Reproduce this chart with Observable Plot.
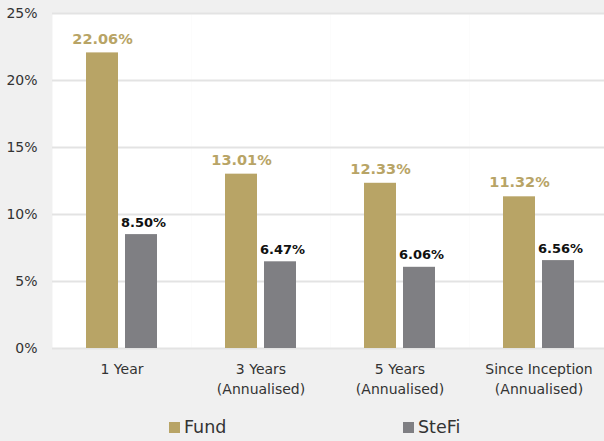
<!DOCTYPE html>
<html>
<head>
<meta charset="utf-8">
<script src="https://cdn.jsdelivr.net/npm/d3@7"></script>
<script src="https://cdn.jsdelivr.net/npm/@observablehq/plot@0.6"></script>
<style>
  html, body { margin: 0; padding: 0; background: #f0f0f0; overflow: hidden; }
  #wrap { width: 604px; height: 441px; position: relative; overflow: hidden; background: #f0f0f0; font-family: "DejaVu Sans", sans-serif; }
  #legend { position: relative; height: 36px; color: #333; font-size: 17.5px; }
  .item { position: absolute; top: 12px; display: flex; align-items: center; }
  .sw { width: 11px; height: 11px; margin-right: 4px; }
</style>
</head>
<body>
<div id="wrap"></div>
<script>
const categories = ["1 Year", "3 Years\n(Annualised)", "5 Years\n(Annualised)", "Since Inception\n(Annualised)"];
const series = ["Fund", "SteFi"];
const fundValues = [22.06, 13.01, 12.33, 11.32];
const stefiValues = [8.50, 6.47, 6.06, 6.56];
const yTicks = [0, 5, 10, 15, 20, 25];
const colors = ["#b8a466", "#7f7f83"];

const rows = [];
categories.forEach((c, i) => {
  rows.push({category: c, series: "Fund", value: fundValues[i]});
  rows.push({category: c, series: "SteFi", value: stefiValues[i]});
});

const chart = Plot.plot({
  width: 604,
  height: 405,
  marginLeft: 52,
  marginRight: -4,
  marginTop: 13,
  marginBottom: 57,
  style: {background: "#f0f0f0", fontFamily: "DejaVu Sans, sans-serif", fontSize: "14px", color: "#404040", overflow: "hidden"},
  fx: {domain: categories, padding: 0},
  x: {domain: series, paddingInner: 0.18, paddingOuter: 0.872, axis: null},
  y: {domain: [0, 25], ticks: yTicks},
  color: {domain: series, range: colors},
  marks: [
    Plot.frame({fill: "white", stroke: null}),
    Plot.ruleY(yTicks, {stroke: "#e3e3e3", strokeWidth: 2}),
    Plot.barY(rows, {fx: "category", x: "series", y: "value", fill: "series"}),
    Plot.text(rows.filter(d => d.series === "Fund"), {fx: "category", x: "series", y: "value", text: d => d.value.toFixed(2) + "%", dy: -14, fill: colors[0], fontWeight: "bold", fontSize: 14.5}),
    Plot.text(rows.filter(d => d.series === "SteFi"), {fx: "category", x: "series", y: "value", text: d => d.value.toFixed(2) + "%", dy: -12, dx: 2, fill: "#111", fontWeight: "bold", fontSize: 13}),
    Plot.axisY({ticks: yTicks, tickFormat: d => d + "%", tickSize: 0, tickPadding: 15, label: null, fontSize: 14, fill: "#333"}),
    Plot.axisFx({anchor: "bottom", tickSize: 0, tickPadding: 11, label: null, lineHeight: 1.43, fontSize: 14, fill: "#333"})
  ]
});
const wrap = document.getElementById("wrap");
wrap.appendChild(chart);
const legend = document.createElement("div");
legend.id = "legend";
const positions = [169, 403];
series.forEach((s, i) => {
  const it = document.createElement("div");
  it.className = "item";
  it.style.left = positions[i] + "px";
  const sw = document.createElement("span");
  sw.className = "sw";
  sw.style.background = colors[i];
  const t = document.createElement("span");
  t.textContent = s;
  it.appendChild(sw); it.appendChild(t);
  legend.appendChild(it);
});
wrap.appendChild(legend);
</script>
</body>
</html>
